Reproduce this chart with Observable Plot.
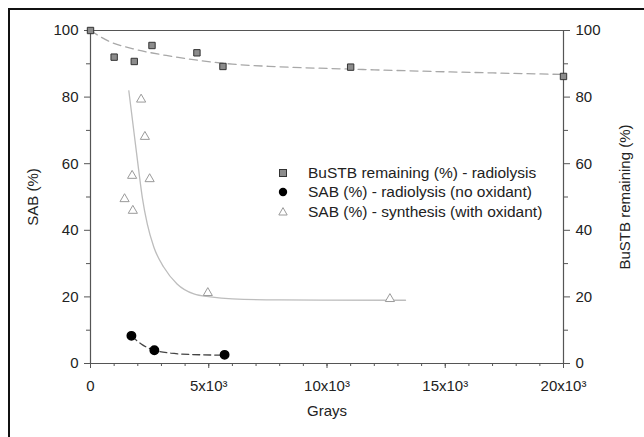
<!DOCTYPE html>
<html>
<head>
<meta charset="utf-8">
<script src="https://cdn.jsdelivr.net/npm/d3@7"></script>
<script src="https://cdn.jsdelivr.net/npm/@observablehq/plot@0.6"></script>
<style>
  html, body { margin: 0; padding: 0; background: #fff; }
  #wrap { position: relative; width: 644px; height: 437px; overflow: hidden;
          font-family: "Liberation Sans", Arial, sans-serif; }
  #frame { position: absolute; left: 8px; top: 8px; right: -4px; bottom: -4px;
           border-left: 2px solid #111; border-top: 2px solid #111; pointer-events: none; }
  #legend { position: absolute; left: 276px; top: 163px; font-size: 15.5px; color: #222; }
  #legend .row { display: flex; align-items: center; height: 19.5px; }
  #legend svg { width: 14px; height: 14px; margin-right: 18px; }
</style>
</head>
<body>
<div id="wrap"><div id="frame"></div><div id="legend"></div></div>
<script>
// BuSTB remaining after radiolysis (%)
const bustbDose = [0, 1000, 1850, 2600, 4500, 5600, 11000, 20000];
const bustbPct  = [100, 92, 90.7, 95.5, 93.3, 89.2, 89.0, 86.2];
// fitted trend for BuSTB
const bustbFitDose = [0, 400, 800, 1800, 3200, 4600, 6000, 8000, 11000, 15000, 20000];
const bustbFitPct  = [100, 98.2, 96.7, 94.5, 92.5, 91.0, 89.9, 89.1, 88.4, 87.6, 86.8];

// SAB (%) - radiolysis, no oxidant
const radDose = [1730, 2700, 5670];
const radSab  = [8.3, 4.0, 2.6];
const radFitDose = [1730, 2200, 2700, 3400, 4300, 5670];
const radFitSab  = [8.3, 5.6, 4.0, 3.1, 2.7, 2.5];

// SAB (%) - synthesis, with oxidant
const synDose = [1440, 1790, 1760, 2140, 2300, 2500, 4960, 12660];
const synSab  = [49.4, 45.9, 56.4, 79.3, 68.1, 55.4, 21.2, 19.4];
const synFitDose = [1620, 1830, 2040, 2190, 2400, 2680, 3100, 3660, 4370, 5070, 6000, 8000, 13320];
const synFitSab  = [81.9, 69.9, 57.9, 49.9, 41.9, 34.9, 28.9, 23.9, 20.9, 20.0, 19.4, 19.1, 19.0];

const legendLabels = [
  "BuSTB remaining (%) - radiolysis",
  "SAB (%) - radiolysis (no oxidant)",
  "SAB (%) - synthesis (with oxidant)"
];

const xMajor = [0, 5000, 10000, 15000, 20000];
const xMinor = d3.range(0, 20001, 1000);
const yMajor = [0, 20, 40, 60, 80, 100];
const yMinor = [10, 30, 50, 70, 90];

const zip = (xs, ys) => xs.map((x, i) => ({x, y: ys[i]}));
const bustb = zip(bustbDose, bustbPct);
const bustbFit = zip(bustbFitDose, bustbFitPct);
const rad = zip(radDose, radSab);
const radFit = zip(radFitDose, radFitSab);
const syn = zip(synDose, synSab);
const synFit = zip(synFitDose, synFitSab);

const axisColor = "#555";
const fmtX = d => d === 0 ? "0" : `${d / 1000}x10\u00B3`;

const chart = Plot.plot({
  width: 644,
  height: 437,
  marginLeft: 90,
  marginRight: 81,
  marginTop: 30,
  marginBottom: 74,
  style: {fontFamily: "'Liberation Sans', Arial, sans-serif", fontSize: "15px", color: "#222", background: "transparent"},
  x: {domain: [0, 20000]},
  y: {domain: [0, 100]},
  marks: [
    // axis frame
    Plot.ruleY([0, 100], {stroke: axisColor, strokeWidth: 1.2}),
    Plot.ruleX([0, 20000], {stroke: axisColor, strokeWidth: 1.2}),
    // bottom axis
    Plot.axisX({ticks: xMinor, tickSize: 3, text: null, stroke: axisColor, label: null}),
    Plot.axisX({ticks: xMajor, tickSize: 5, tickFormat: fmtX, stroke: axisColor, fontSize: 15,
                tickPadding: 12, label: "Grays", labelAnchor: "center", labelArrow: false, labelOffset: 52}),
    // left axis
    Plot.axisY({anchor: "left", ticks: yMinor, tickSize: 4, text: null, stroke: axisColor, label: null}),
    Plot.axisY({anchor: "left", ticks: yMajor, tickSize: 6, stroke: axisColor, fontSize: 15, tickPadding: 6,
                label: "SAB (%)", labelAnchor: "center", labelArrow: false, labelOffset: 63}),
    // right axis
    Plot.axisY({anchor: "right", ticks: yMinor, tickSize: 4, text: null, stroke: axisColor, label: null}),
    Plot.axisY({anchor: "right", ticks: yMajor, tickSize: 6, stroke: axisColor, fontSize: 15, tickPadding: 6,
                label: "BuSTB remaining (%)", labelAnchor: "center", labelArrow: false, labelOffset: 66}),
    // fitted curves
    Plot.line(bustbFit, {x: "x", y: "y", curve: "monotone-x", stroke: "#a8a8a8", strokeWidth: 1.3, strokeDasharray: "8,5"}),
    Plot.line(synFit, {x: "x", y: "y", curve: "monotone-x", stroke: "#bdbdbd", strokeWidth: 1.3}),
    Plot.line(radFit, {x: "x", y: "y", curve: "monotone-x", stroke: "#444", strokeWidth: 1.3, strokeDasharray: "7,4"}),
    // data points
    Plot.dot(syn, {x: "x", y: "y", symbol: "triangle", r: 3.4, stroke: "#9a9a9a", fill: "white", strokeWidth: 1}),
    Plot.dot(bustb, {x: "x", y: "y", symbol: "square", r: 3.6, fill: "#8c8c8c", stroke: "#333", strokeWidth: 1}),
    Plot.dot(rad, {x: "x", y: "y", symbol: "circle", r: 4.2, fill: "#000", stroke: "#000"})
  ]
});
const wrap = document.getElementById("wrap");
chart.style.position = "absolute";
chart.style.left = "0";
chart.style.top = "0";
wrap.insertBefore(chart, wrap.firstChild);

// legend
const symbols = [
  `<rect x="3.5" y="3.5" width="7" height="7" fill="#8c8c8c" stroke="#333" stroke-width="1"/>`,
  `<circle cx="7" cy="7" r="4.2" fill="#000"/>`,
  `<path d="M7,2.6 L11.2,10 L2.8,10 Z" fill="white" stroke="#9a9a9a" stroke-width="1"/>`
];
const legend = document.getElementById("legend");
legendLabels.forEach((t, i) => {
  const row = document.createElement("div");
  row.className = "row";
  row.innerHTML = `<svg viewBox="0 0 14 14">${symbols[i]}</svg><span>${t}</span>`;
  legend.appendChild(row);
});
</script>
</body>
</html>
